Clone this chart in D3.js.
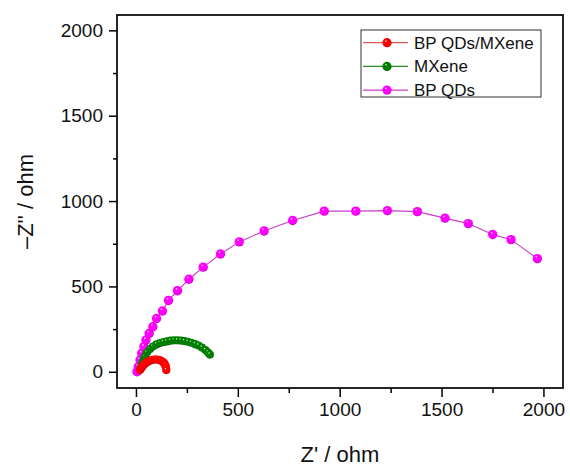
<!DOCTYPE html>
<html>
<head>
<meta charset="utf-8">
<script src="https://cdn.jsdelivr.net/npm/d3@7"></script>
<style>
  body { margin: 0; background: #fff; }
  svg { display: block; font-family: "Liberation Sans", Arial, sans-serif; }
</style>
</head>
<body>
<div id="chart"></div>
<script>
// Nyquist data (ohm)
const seriesNames = ["BP QDs/MXene", "MXene", "BP QDs"];
const seriesColors = ["#ff0000", "#008000", "#ff00ff"];
const lineColors = ["#e05a5a", "#2e8b2e", "#c63ec6"];

const bpMxX = [20, 25, 31, 38, 46, 54, 63, 72, 82, 92, 102, 112, 121, 130, 137, 142, 146, 148, 149];
const bpMxY = [10, 20, 30, 39, 48, 56, 62, 67, 70, 72, 72, 70, 66, 60, 52, 43, 33, 22, 10];

const mxX = [22, 29, 37, 44, 54, 69, 83, 101, 118, 135, 152, 169, 187, 204, 221, 238, 255, 272, 290, 307, 324, 341, 354, 363];
const mxY = [22, 45, 69, 89, 113, 133, 148, 160, 168, 174, 178, 182, 184, 184, 183, 180, 176, 170, 162, 154, 142, 127, 113, 101];

const bpX = [5, 11, 20, 28, 39, 49, 65, 83, 101, 130, 160, 204, 260, 330, 415, 507, 629, 769, 924, 1079, 1234, 1381, 1517, 1631, 1751, 1841, 1970];
const bpY = [0, 29, 69, 108, 147, 186, 225, 264, 312, 356, 418, 475, 542, 613, 690, 761, 825, 886, 941, 941, 944, 938, 900, 868, 804, 774, 663];

const xTicks = [0, 500, 1000, 1500, 2000];
const yTicks = [0, 500, 1000, 1500, 2000];
const xDomain = [-93, 2096];
const yDomain = [-95, 2090];

const width = 570, height = 468;
const margin = { left: 117, top: 15, right: 7, bottom: 80 };

const svg = d3.select("#chart").append("svg")
  .attr("width", width)
  .attr("height", height);

const x = d3.scaleLinear().domain(xDomain).range([margin.left, width - margin.right]);
const y = d3.scaleLinear().domain(yDomain).range([height - margin.bottom, margin.top]);

// sphere-looking markers
const defs = svg.append("defs");
seriesColors.forEach((c, i) => {
  const g = defs.append("radialGradient")
    .attr("id", "ball" + i)
    .attr("cx", "45%").attr("cy", "40%").attr("r", "60%")
    .attr("fx", "38%").attr("fy", "30%");
  g.append("stop").attr("offset", "0%").attr("stop-color", "#ffffff");
  g.append("stop").attr("offset", "22%").attr("stop-color", c);
  g.append("stop").attr("offset", "80%").attr("stop-color", c);
  g.append("stop").attr("offset", "100%").attr("stop-color", d3.color(c).darker(0.7));
});

const series = [
  { xs: bpX, ys: bpY, idx: 2, r: 4.7 },
  { xs: mxX, ys: mxY, idx: 1, r: 4.1 },
  { xs: bpMxX, ys: bpMxY, idx: 0, r: 4.1 }
];

const plot = svg.append("g");
const line = d3.line().x(d => x(d[0])).y(d => y(d[1]));

series.forEach(s => {
  const pts = s.xs.map((v, i) => [v, s.ys[i]]);
  plot.append("path")
    .datum(pts)
    .attr("d", line)
    .attr("fill", "none")
    .attr("stroke", lineColors[s.idx])
    .attr("stroke-width", 1.1);
  plot.selectAll(null)
    .data(pts)
    .enter()
    .append("circle")
    .attr("cx", d => x(d[0]))
    .attr("cy", d => y(d[1]))
    .attr("r", s.r)
    .attr("fill", `url(#ball${s.idx})`);
});

// axes
const xMinor = d3.range(250, 2000, 500);
const yMinor = d3.range(250, 2000, 500);

svg.append("g")
  .attr("transform", `translate(0,${height - margin.bottom})`)
  .call(d3.axisBottom(x).tickValues(xTicks).tickSize(9).tickPadding(6).tickFormat(d3.format("d")));
svg.append("g")
  .attr("transform", `translate(0,${height - margin.bottom})`)
  .call(d3.axisBottom(x).tickValues(xMinor).tickSize(5).tickFormat(""));

svg.append("g")
  .attr("transform", `translate(${margin.left},0)`)
  .call(d3.axisLeft(y).tickValues(yTicks).tickSize(8).tickPadding(6).tickFormat(d3.format("d")));
svg.append("g")
  .attr("transform", `translate(${margin.left},0)`)
  .call(d3.axisLeft(y).tickValues(yMinor).tickSize(4).tickFormat(""));

svg.selectAll(".domain").remove();
svg.selectAll(".tick line").attr("stroke", "#000").attr("stroke-width", 1.5);
svg.selectAll(".tick text").attr("font-size", 19).attr("fill", "#111")
  .style("font-family", "'Liberation Sans', Arial, sans-serif");

// frame
svg.append("rect")
  .attr("x", margin.left)
  .attr("y", margin.top)
  .attr("width", width - margin.left - margin.right)
  .attr("height", height - margin.top - margin.bottom)
  .attr("fill", "none")
  .attr("stroke", "#000")
  .attr("stroke-width", 1.7);

// axis titles
svg.append("text")
  .attr("x", (margin.left + width - margin.right) / 2)
  .attr("y", 462)
  .attr("text-anchor", "middle")
  .attr("font-size", 22)
  .attr("fill", "#111")
  .text("Z' / ohm");

svg.append("text")
  .attr("transform", `translate(33,${(margin.top + height - margin.bottom) / 2}) rotate(-90)`)
  .attr("text-anchor", "middle")
  .attr("font-size", 22)
  .attr("fill", "#111")
  .text("\u2013Z'' / ohm");

// legend
const legend = svg.append("g").attr("transform", "translate(361,30)");
legend.append("rect")
  .attr("width", 180).attr("height", 67)
  .attr("fill", "#fff")
  .attr("stroke", "#333")
  .attr("stroke-width", 1);

seriesNames.forEach((name, i) => {
  const row = legend.append("g").attr("transform", `translate(0,${12.7 + i * 23.7})`);
  row.append("line")
    .attr("x1", 2).attr("x2", 47)
    .attr("stroke", lineColors[i]).attr("stroke-width", 1.2);
  row.append("circle")
    .attr("cx", 26).attr("r", 4.6)
    .attr("fill", `url(#ball${i})`);
  row.append("text")
    .attr("x", 53).attr("y", 6)
    .attr("font-size", 17)
    .attr("fill", "#111")
    .text(name);
});
</script>
</body>
</html>
